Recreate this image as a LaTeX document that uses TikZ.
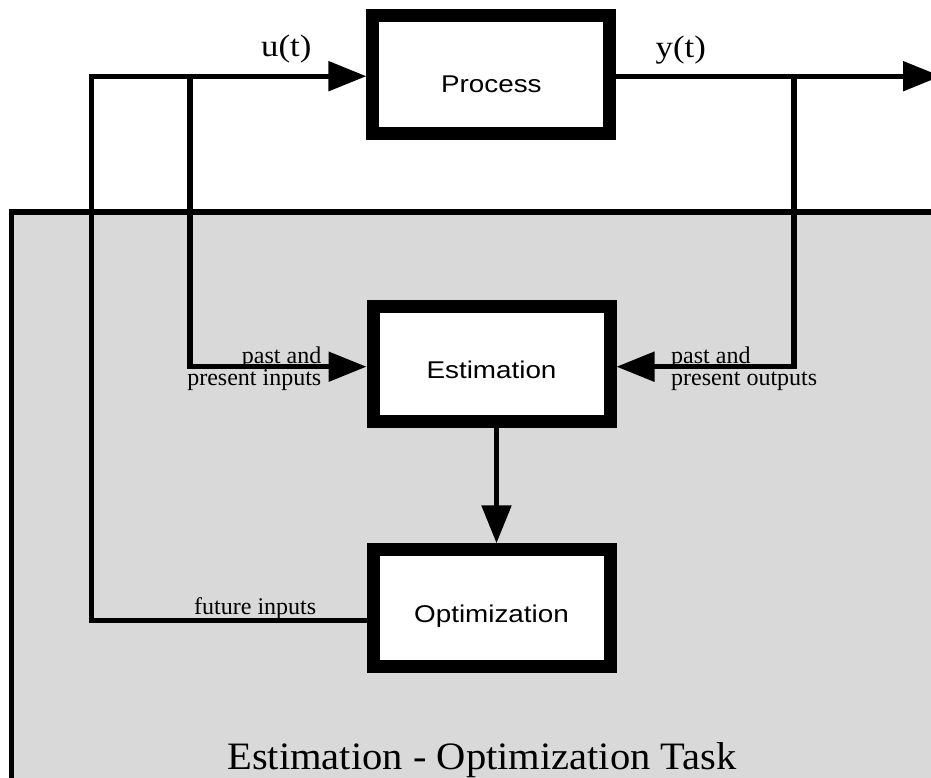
\documentclass[tikz,border=0pt]{standalone}
\usepackage{fontspec}
\setmainfont{Liberation Serif}
\newfontfamily\boxfont[FakeStretch=1.15]{Liberation Sans}
\newfontfamily\sigfont[FakeStretch=1.12]{Liberation Serif}
\newfontfamily\titlefont[FakeStretch=1.045]{Liberation Serif}
\usetikzlibrary{arrows.meta}
\definecolor{panel}{RGB}{217,217,217}
\tikzset{
  blockbox/.style={draw=black, line width=13pt, fill=white, inner sep=0pt,
    minimum width=237pt, font=\boxfont\fontsize{24.2}{26}\selectfont, text depth=0pt},
  conn/.style={draw=black, line width=5.3pt, line join=miter},
  tipped/.style={conn, -{Triangle[length=38pt,width=29pt]}},
  lbl/.style={inner sep=0pt, font=\fontsize{24}{22.5}\selectfont},
  sig/.style={inner sep=0pt, anchor=base, font=\sigfont\fontsize{31}{31}\selectfont},
}
\begin{document}
\begin{tikzpicture}[x=1pt,y=-1pt]
\useasboundingbox (0,0) rectangle (931,778);
% panel
\draw[line width=5.3pt, fill=panel] (11.2,212) rectangle (950,790);
% blocks
\node[blockbox, minimum height=117.7pt, text height=35.2pt] (proc) at (491.4,74.7) {Process};
\node[blockbox, minimum height=114.7pt, text height=28.4pt] (est) at (491.5,363.85) {Estimation};
\node[blockbox, minimum height=117pt, text height=28.4pt] (opt) at (491.5,608.3) {Optimization};
% junction coordinates
\coordinate (ul) at (91.7,76.2);
\coordinate (uj) at (190,76.2);
\coordinate (yj) at (794,76.2);
\coordinate (yout) at (941,76.2);
\coordinate (fl) at (91.7,620.5);
\coordinate (ej) at (190,366.7);
\coordinate (er) at (794,366.7);
% connectors
\draw[tipped] (opt.west |- fl) -- (fl) -- (ul) -- (ul -| proc.west);
\draw[tipped] (uj) -- (ej) -- (ej -| est.west);
\draw[tipped] (proc.east |- yj) -- (yout);
\draw[tipped] (yj) -- (er) -- (er -| est.east);
\draw[tipped] ([xshift=5pt]est.south) -- ([xshift=5pt]opt.north);
% labels
\node[sig] (ut) at (286.3,56.7) {u(t)};
\node[sig] (yt) at (680.8,57.3) {y(t)};
\node[lbl, anchor=north east, align=right] (lin) at (321.5,346.6) {past and\\present inputs};
\node[lbl, anchor=north west, align=left] (lout) at (671,346.6) {past and\\present outputs};
\node[lbl, anchor=base] (lfut) at (255.2,614.5) {future inputs};
\node[inner sep=0pt, anchor=base, font=\titlefont\fontsize{38.8}{40}\selectfont] (title) at (482,769.7) {Estimation - Optimization Task};
\end{tikzpicture}
\end{document}
